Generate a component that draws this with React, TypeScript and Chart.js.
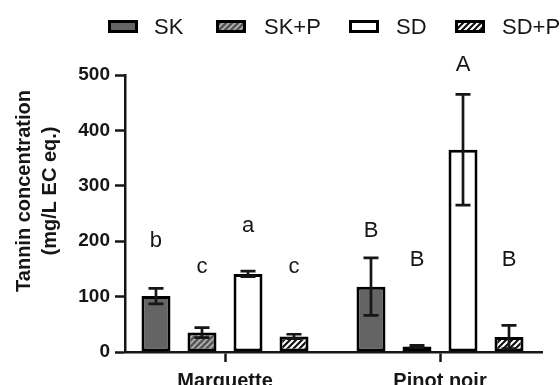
import React, { useEffect, useRef } from "react";
import { Chart, registerables } from "chart.js";

Chart.register(...registerables);

const categories = ["Marquette", "Pinot noir"];
const seriesNames = ["SK", "SK+P", "SD", "SD+P"];
const skValues = [101, 118];
const skErrors = [14, 52];
const skpValues = [35, 10];
const skpErrors = [9, 2];
const sdValues = [141, 365];
const sdErrors = [5, 100];
const sdpValues = [28, 27];
const sdpErrors = [4, 21];
// significance letters and the data height at which each is written
const skLetters = ["b", "B"];
const skpLetters = ["c", "B"];
const sdLetters = ["a", "A"];
const sdpLetters = ["c", "B"];
const skLetterY = [200, 219];
const skpLetterY = [153, 166];
const sdLetterY = [227, 518];
const sdpLetterY = [153, 166];
const yTicks = [0, 100, 200, 300, 400, 500];
const yTitle = ["Tannin concentration", "(mg/L EC eq.)"];

const FONT = "'Liberation Sans', Arial, sans-serif";
const INK = "#161616";

function makeHatch(bg: string, fg: string, lw: number): CanvasPattern | string {
  const s = 6;
  const c = document.createElement("canvas");
  c.width = s;
  c.height = s;
  const g = c.getContext("2d");
  if (!g) return bg;
  g.fillStyle = bg;
  g.fillRect(0, 0, s, s);
  g.strokeStyle = fg;
  g.lineWidth = lw;
  g.lineCap = "square";
  g.beginPath();
  for (let k = -1; k <= 1; k++) {
    g.moveTo(k * s - 1, s + 1);
    g.lineTo(k * s + s + 1, -1);
  }
  g.stroke();
  const p = g.createPattern(c, "repeat");
  return p || bg;
}

export default function App() {
  const ref = useRef<HTMLCanvasElement>(null);
  useEffect(() => {
    document.body.style.margin = "0";
    const canvas = ref.current;
    if (!canvas) return;
    const fills: any[] = [
      "#646464",
      makeHatch("#555555", "#b4b4b4", 1.6),
      "#ffffff",
      makeHatch("#ffffff", "#111111", 2.2),
    ];
    const values = [skValues, skpValues, sdValues, sdpValues];
    const errors = [skErrors, skpErrors, sdErrors, sdpErrors];
    const letters = [skLetters, skpLetters, sdLetters, sdpLetters];
    const letterY = [skLetterY, skpLetterY, sdLetterY, sdpLetterY];

    const extras = {
      id: "extras",
      afterLayout(chart: any) {
        // category band slightly wider than the drawn axis line
        const xs = chart.scales.x;
        xs._startPixel = xs.left - 7.5;
        xs._endPixel = xs.right + 5.5;
        xs._length = xs._endPixel - xs._startPixel;
      },
      afterDatasetsDraw(chart: any) {
        const ctx = chart.ctx;
        const ys = chart.scales.y;
        ctx.save();
        ctx.strokeStyle = INK;
        ctx.lineWidth = 2.7;
        values.forEach((vals, i) => {
          const meta = chart.getDatasetMeta(i);
          meta.data.forEach((bar: any, j: number) => {
            const v = vals[j];
            const e = errors[i][j];
            const x = bar.x;
            const t = ys.getPixelForValue(v + e);
            const b = ys.getPixelForValue(v - e);
            ctx.beginPath();
            ctx.moveTo(x, t);
            ctx.lineTo(x, b);
            ctx.moveTo(x - 7.5, t);
            ctx.lineTo(x + 7.5, t);
            ctx.moveTo(x - 7.5, b);
            ctx.lineTo(x + 7.5, b);
            ctx.stroke();
            ctx.fillStyle = INK;
            ctx.font = `22px ${FONT}`;
            ctx.textAlign = "center";
            ctx.textBaseline = "middle";
            ctx.fillText(letters[i][j], x, ys.getPixelForValue(letterY[i][j]));
          });
        });
        ctx.restore();
      },
      afterDraw(chart: any) {
        const ctx = chart.ctx;
        ctx.save();
        // y title
        ctx.fillStyle = INK;
        ctx.font = `bold 20px ${FONT}`;
        ctx.textAlign = "center";
        ctx.textBaseline = "middle";
        ctx.translate(24, 191);
        ctx.rotate(-Math.PI / 2);
        ctx.fillText(yTitle[0], 0, 0);
        ctx.fillText(yTitle[1], 0, 26.5);
        ctx.restore();
        // legend
        ctx.save();
        const boxX = [108, 216, 349, 455];
        const textX = [154, 264, 396, 502];
        seriesNames.forEach((name, i) => {
          ctx.fillStyle = fills[i];
          ctx.fillRect(boxX[i], 20, 30, 13);
          ctx.strokeStyle = "#000";
          ctx.lineWidth = 3;
          ctx.strokeRect(boxX[i] + 1.5, 21.5, 27, 10);
          ctx.fillStyle = INK;
          ctx.font = `22px ${FONT}`;
          ctx.textAlign = "left";
          ctx.textBaseline = "middle";
          ctx.fillText(name, textX[i], 27.5);
        });
        ctx.restore();
      },
    };

    const chart = new Chart(canvas, {
      type: "bar",
      data: {
        labels: categories,
        datasets: values.map((vals, i) => ({
          label: seriesNames[i],
          data: vals,
          backgroundColor: fills[i],
          borderColor: "#000",
          borderWidth: 3,
          borderSkipped: false,
          barPercentage: 0.63,
          categoryPercentage: 0.856,
        })),
      },
      options: {
        responsive: false,
        animation: false,
        layout: { padding: { top: 75, right: 18, left: 0, bottom: 0 } },
        plugins: { legend: { display: false }, tooltip: { enabled: false } },
        scales: {
          x: {
            afterFit: (s: any) => {
              s.height = 33;
            },
            grid: {
              offset: false,
              drawOnChartArea: false,
              tickLength: 10,
              tickWidth: 2.5,
              tickColor: INK,
            },
            border: { color: INK, width: 2.5 },
            ticks: { color: INK, padding: 7, font: { family: FONT, size: 20, weight: "bold" } },
          },
          y: {
            min: 0,
            max: 500,
            afterFit: (s: any) => {
              s.width = 125;
            },
            afterBuildTicks: (s: any) => {
              s.ticks = yTicks.map((v) => ({ value: v }));
            },
            grid: {
              drawOnChartArea: false,
              tickLength: 10,
              tickWidth: 2.5,
              tickColor: INK,
            },
            border: { color: INK, width: 2.5 },
            ticks: { color: INK, padding: 5, font: { family: FONT, size: 19, weight: "bold" } },
          },
        },
      },
      plugins: [extras],
    } as any);
    return () => chart.destroy();
  }, []);
  return (
    <div style={{ width: 560, height: 385 }}>
      <canvas ref={ref} width={560} height={385} style={{ display: "block" }} />
    </div>
  );
}
